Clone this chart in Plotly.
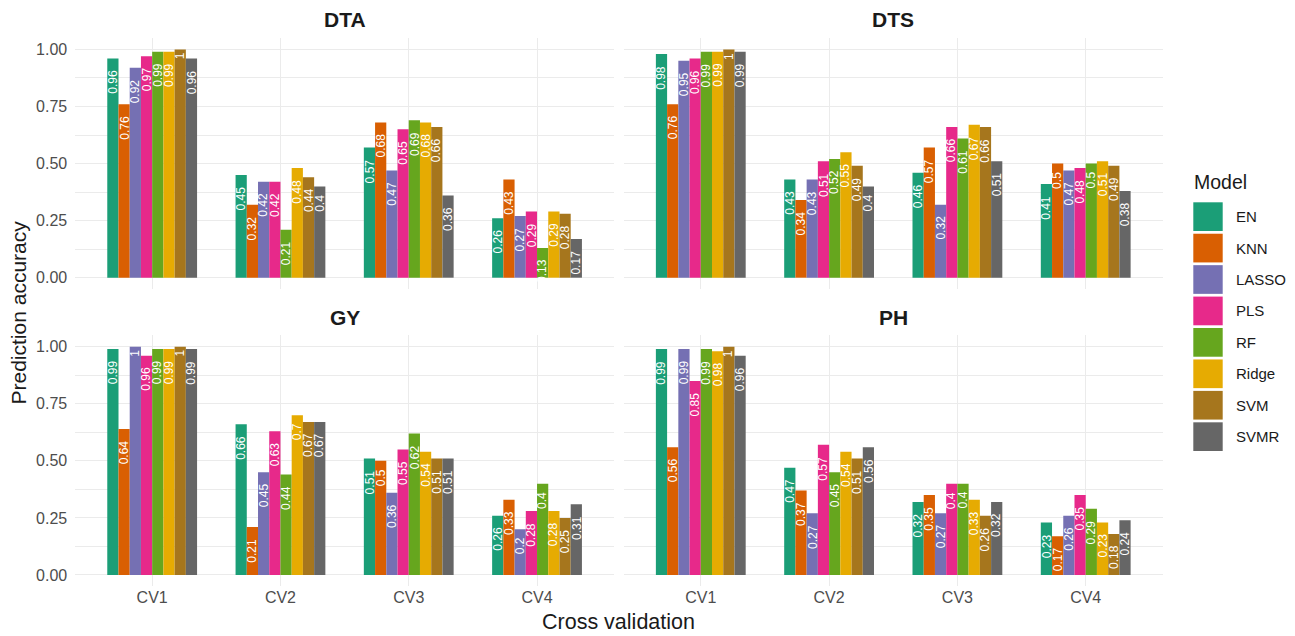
import plotly.graph_objects as go

# ---------------- data ----------------
models = ["EN", "KNN", "LASSO", "PLS", "RF", "Ridge", "SVM", "SVMR"]
colors = ["#1B9E77", "#D95F02", "#7570B3", "#E7298A", "#66A61E", "#E6AB02", "#A6761D", "#666666"]
cvs = ["CV1", "CV2", "CV3", "CV4"]
traits = ["DTA", "DTS", "GY", "PH"]

# values per model across CV1..CV4
DTA = {
    "EN":    [0.96, 0.45, 0.57, 0.26],
    "KNN":   [0.76, 0.32, 0.68, 0.43],
    "LASSO": [0.92, 0.42, 0.47, 0.27],
    "PLS":   [0.97, 0.42, 0.65, 0.29],
    "RF":    [0.99, 0.21, 0.69, 0.13],
    "Ridge": [0.99, 0.48, 0.68, 0.29],
    "SVM":   [1.00, 0.44, 0.66, 0.28],
    "SVMR":  [0.96, 0.40, 0.36, 0.17],
}
DTS = {
    "EN":    [0.98, 0.43, 0.46, 0.41],
    "KNN":   [0.76, 0.34, 0.57, 0.50],
    "LASSO": [0.95, 0.43, 0.32, 0.47],
    "PLS":   [0.96, 0.51, 0.66, 0.48],
    "RF":    [0.99, 0.52, 0.61, 0.50],
    "Ridge": [0.99, 0.55, 0.67, 0.51],
    "SVM":   [1.00, 0.49, 0.66, 0.49],
    "SVMR":  [0.99, 0.40, 0.51, 0.38],
}
GY = {
    "EN":    [0.99, 0.66, 0.51, 0.26],
    "KNN":   [0.64, 0.21, 0.50, 0.33],
    "LASSO": [1.00, 0.45, 0.36, 0.20],
    "PLS":   [0.96, 0.63, 0.55, 0.28],
    "RF":    [0.99, 0.44, 0.62, 0.40],
    "Ridge": [0.99, 0.70, 0.54, 0.28],
    "SVM":   [1.00, 0.67, 0.51, 0.25],
    "SVMR":  [0.99, 0.67, 0.51, 0.31],
}
PH = {
    "EN":    [0.99, 0.47, 0.32, 0.23],
    "KNN":   [0.56, 0.37, 0.35, 0.17],
    "LASSO": [0.99, 0.27, 0.27, 0.26],
    "PLS":   [0.85, 0.57, 0.40, 0.35],
    "RF":    [0.99, 0.45, 0.40, 0.29],
    "Ridge": [0.98, 0.54, 0.33, 0.23],
    "SVM":   [1.00, 0.51, 0.26, 0.18],
    "SVMR":  [0.96, 0.56, 0.32, 0.24],
}
y_ticks = [0, 0.25, 0.5, 0.75, 1.0]
y_tick_labels = ["0.00", "0.25", "0.50", "0.75", "1.00"]

panel_data = {"DTA": DTA, "DTS": DTS, "GY": GY, "PH": PH}

# ---------------- layout helpers ----------------
W, H = 1295, 636
FONT = "Liberation Sans, Arial, sans-serif"
GRID = "#EBEBEB"
TICK_SIZE = 16
LABEL_SIZE = 12
BARGAP = 0.3

xdom = [[75.2 / W, 614.0 / W], [623.8 / W, 1162.7 / W]]
ydom = [[1 - 289.1 / H, 1 - 38.0 / H], [1 - 586.4 / H, 1 - 335.3 / H]]


def fmt(v):
    return f"{v:.2f}".rstrip("0").rstrip(".")


def text_width(s, size):
    # approximate Arial/Liberation Sans advance widths
    w = 0.0
    for ch in s:
        w += 0.278 if ch == "." else 0.556
    return w * size


fig = go.Figure()
annotations = []
n_models = len(models)
slot = (1 - BARGAP) / n_models

for p, trait in enumerate(traits):
    ax = "" if p == 0 else str(p + 1)
    data = panel_data[trait]
    for mi, (m, col) in enumerate(zip(models, colors)):
        vals = data[m]
        fig.add_trace(go.Bar(
            x=cvs, y=vals, name=m,
            marker=dict(color=col, line=dict(width=0)),
            xaxis="x" + ax, yaxis="y" + ax,
            showlegend=False, hoverinfo="x+y+name",
        ))
        # value labels: rotated, placed like ggplot hjust = 1.5
        for ci, v in enumerate(vals):
            lab = fmt(v)
            w = text_width(lab, LABEL_SIZE)
            annotations.append(dict(
                text=lab, xref="x" + ax, yref="y" + ax,
                x=ci - (1 - BARGAP) / 2 + (mi + 0.5) * slot, y=v,
                textangle=-90, xanchor="center", yanchor="middle",
                yshift=-w, showarrow=False, borderpad=0,
                font=dict(size=LABEL_SIZE, color="white", family=FONT),
            ))

layout = dict(
    width=W, height=H,
    margin=dict(l=0, r=0, t=0, b=0),
    paper_bgcolor="white", plot_bgcolor="white",
    barmode="group", bargap=BARGAP, bargroupgap=0,
    font=dict(family=FONT, color="#1A1A1A"),
    showlegend=False,
)

for p, trait in enumerate(traits):
    ax = "" if p == 0 else str(p + 1)
    col_i = p % 2
    row_i = p // 2
    bottom = row_i == 1
    left = col_i == 0
    layout["xaxis" + ax] = dict(
        domain=xdom[col_i], anchor="y" + ax,
        type="category", categoryorder="array", categoryarray=cvs,
        range=[-0.6, 3.6],
        showgrid=True, gridcolor=GRID, gridwidth=1.3,
        showline=False, zeroline=False,
        showticklabels=bottom,
        ticks="",
        tickfont=dict(size=TICK_SIZE, color="#4D4D4D", family=FONT),
        fixedrange=True,
    )
    layout["yaxis" + ax] = dict(
        domain=ydom[row_i], anchor="x" + ax,
        range=[-0.05, 1.05],
        tickmode="array", tickvals=y_ticks, ticktext=y_tick_labels,
        showgrid=True, gridcolor=GRID, gridwidth=1.3,
        minor=dict(tick0=0.125, dtick=0.25, showgrid=True, gridcolor=GRID, gridwidth=0.7),
        showline=False, zeroline=False,
        showticklabels=left, ticks="",
        ticklabelstandoff=7,
        tickfont=dict(size=TICK_SIZE, color="#4D4D4D", family=FONT),
        fixedrange=True,
    )
    # strip title
    annotations.append(dict(
        text="<b>" + trait + "</b>", xref="paper", yref="paper",
        x=(xdom[col_i][0] + xdom[col_i][1]) / 2,
        y=ydom[row_i][1] + 18 / H,
        xanchor="center", yanchor="middle", showarrow=False,
        font=dict(size=21, color="#1A1A1A", family=FONT),
    ))

# axis titles
annotations.append(dict(
    text="Cross validation", xref="paper", yref="paper",
    x=(xdom[0][0] + xdom[1][1]) / 2, y=1 - 622 / H,
    xanchor="center", yanchor="middle", showarrow=False,
    font=dict(size=21.5, color="#1A1A1A", family=FONT),
))
annotations.append(dict(
    text="Prediction accuracy", xref="paper", yref="paper",
    x=18 / W, y=1 - 312.5 / H, textangle=-90,
    xanchor="center", yanchor="middle", showarrow=False,
    font=dict(size=21, color="#1A1A1A", family=FONT),
))

# manual legend (large ggplot-style keys)
shapes = []
annotations.append(dict(
    text="Model", xref="paper", yref="paper",
    x=1192 / W, y=1 - 182 / H, xanchor="left", yanchor="middle", showarrow=False,
    font=dict(size=19.5, color="#1A1A1A", family=FONT),
))
key_top0, key_step, key_h = 202.3, 31.43, 28.7
for i, (m, col) in enumerate(zip(models, colors)):
    top = key_top0 + i * key_step
    shapes.append(dict(
        type="rect", xref="paper", yref="paper",
        x0=1193.3 / W, x1=1222.7 / W, y0=1 - (top + key_h) / H, y1=1 - top / H,
        fillcolor=col, line=dict(width=0),
    ))
    annotations.append(dict(
        text=m, xref="paper", yref="paper",
        x=1234 / W, y=1 - (top + key_h / 2) / H, xanchor="left", yanchor="middle",
        showarrow=False, font=dict(size=15, color="#1A1A1A", family=FONT),
    ))

layout["annotations"] = annotations
layout["shapes"] = shapes
fig.update_layout(**layout)

fig.write_html(
    "out.html",
    config={"displayModeBar": False},
    post_script="document.body.style.margin='0';document.body.style.overflow='hidden';",
)
